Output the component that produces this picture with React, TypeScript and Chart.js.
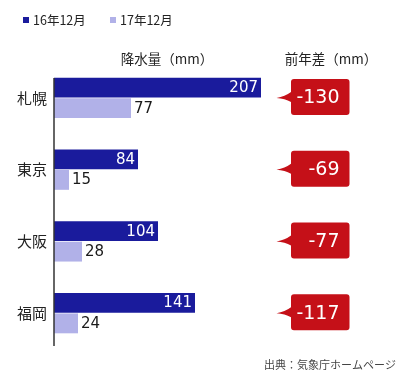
import React, { useEffect, useRef } from "react";
import { Chart, registerables } from "chart.js";

Chart.register(...registerables);

const categories = ["札幌", "東京", "大阪", "福岡"];
const seriesLabels = ["16年12月", "17年12月"];
const dec2016 = [207, 84, 104, 141];
const dec2017 = [77, 15, 28, 24];
const diffs = [-130, -69, -77, -117];
const barTitle = "降水量（mm）";
const diffTitle = "前年差（mm）";
const sourceText = "出典：気象庁ホームページ";

const DARK = "#1a1b9c";
const LIGHT = "#b1b1e8";
const RED = "#c51018";
const FONT = '"Noto Sans CJK JP", "Noto Sans", sans-serif';
const NUM_FONT = '"DejaVu Sans", sans-serif';

const overlayPlugin = {
  id: "overlay",
  afterDatasetsDraw(chart: any) {
    const { ctx, chartArea, scales } = chart;
    const yScale = scales.y;
    const xScale = scales.x;
    ctx.save();

    // axis line
    ctx.strokeStyle = "#333";
    ctx.lineWidth = 1.5;
    ctx.beginPath();
    ctx.moveTo(chartArea.left, chartArea.top + 16);
    ctx.lineTo(chartArea.left, chartArea.bottom - 3);
    ctx.stroke();

    // value labels
    ctx.font = `15px ${NUM_FONT}`;
    ctx.textBaseline = "middle";
    chart.data.datasets.forEach((ds: any, di: number) => {
      const meta = chart.getDatasetMeta(di);
      meta.data.forEach((bar: any, i: number) => {
        const v = ds.data[i];
        if (di === 0) {
          ctx.fillStyle = "#fff";
          ctx.textAlign = "right";
          ctx.fillText(String(v), bar.x - 3, bar.y + 0.5);
        } else {
          ctx.fillStyle = "#1a1a1a";
          ctx.textAlign = "left";
          ctx.fillText(String(v), bar.x + 3, bar.y + 0.5);
        }
      });
    });

    // callouts
    diffs.forEach((d, i) => {
      const cy = yScale.getPixelForValue(i) - 1;
      const tipX = xScale.getPixelForValue(222.5);
      const bl = xScale.getPixelForValue(237);
      const br = xScale.getPixelForValue(295.5);
      const h = 36;
      const top = cy - h / 2;
      const r = 3;
      ctx.fillStyle = RED;
      ctx.beginPath();
      ctx.moveTo(bl + r, top);
      ctx.lineTo(br - r, top);
      ctx.quadraticCurveTo(br, top, br, top + r);
      ctx.lineTo(br, top + h - r);
      ctx.quadraticCurveTo(br, top + h, br - r, top + h);
      ctx.lineTo(bl + r, top + h);
      ctx.quadraticCurveTo(bl, top + h, bl, top + h - r);
      ctx.lineTo(bl, cy + 5);
      ctx.quadraticCurveTo(bl - 6, cy + 1.5, tipX, cy + 1);
      ctx.quadraticCurveTo(bl - 6, cy - 0.5, bl, cy - 5);
      ctx.lineTo(bl, top + r);
      ctx.quadraticCurveTo(bl, top, bl + r, top);
      ctx.closePath();
      ctx.fill();
      ctx.fillStyle = "#fff";
      ctx.font = `19px ${NUM_FONT}`;
      ctx.textAlign = "right";
      ctx.textBaseline = "middle";
      ctx.fillText(String(d), br - 10, cy + 1.5);
    });

    // titles
    ctx.fillStyle = "#222";
    ctx.font = `13.5px ${FONT}`;
    ctx.textAlign = "center";
    ctx.textBaseline = "middle";
    ctx.fillText(barTitle, 167, 59);
    ctx.fillText(diffTitle, 331, 59);

    // legend
    ctx.font = `12.5px ${FONT}`;
    ctx.textAlign = "left";
    const legendX = [23, 110];
    chart.data.datasets.forEach((ds: any, di: number) => {
      ctx.fillStyle = ds.backgroundColor;
      ctx.fillRect(legendX[di], 17, 6, 6);
      ctx.fillStyle = "#222";
      ctx.fillText(ds.label, legendX[di] + 10, 20);
    });

    // source
    ctx.fillStyle = "#444";
    ctx.font = `11px ${FONT}`;
    ctx.textAlign = "right";
    ctx.fillText(sourceText, 396, 365);

    ctx.restore();
  },
};

export default function App() {
  const ref = useRef<HTMLCanvasElement>(null);
  useEffect(() => {
    if (!ref.current) return;
    const chart = new Chart(ref.current, {
      type: "bar",
      data: {
        labels: categories,
        datasets: [
          {
            label: seriesLabels[0],
            data: dec2016,
            backgroundColor: DARK,
            categoryPercentage: 0.571,
            barPercentage: 0.97,
          },
          {
            label: seriesLabels[1],
            data: dec2017,
            backgroundColor: LIGHT,
            categoryPercentage: 0.571,
            barPercentage: 0.97,
          },
        ],
      },
      options: {
        indexAxis: "y",
        responsive: false,
        animation: false,
        layout: { padding: { top: 62, bottom: 25, left: 0, right: 46 } },
        plugins: {
          legend: { display: false },
          tooltip: { enabled: false },
        },
        scales: {
          x: { display: false, min: 0, max: 300 },
          y: {
            grid: { display: false, drawTicks: false },
            border: { display: false },
            ticks: {
              color: "#222",
              padding: 7,
              font: { size: 15, family: FONT },
            },
            afterFit: (s: any) => {
              s.width = 54;
            },
          },
        },
      },
      plugins: [overlayPlugin],
    });
    return () => chart.destroy();
  }, []);
  return (
    <div style={{ position: "absolute", left: 0, top: 0, width: 400, height: 374, background: "#fff" }}>
      <canvas ref={ref} width={400} height={374} />
    </div>
  );
}
